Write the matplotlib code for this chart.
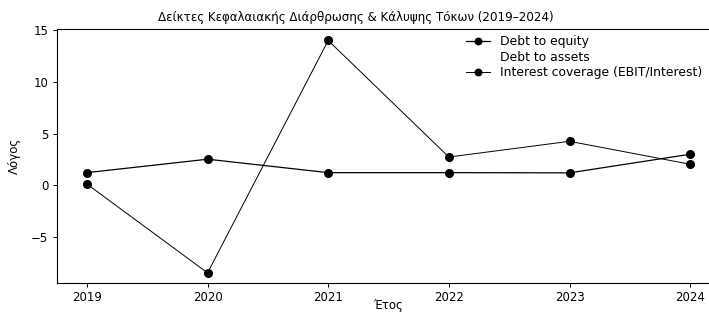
import numpy as np
import matplotlib
matplotlib.use("Agg")
import matplotlib.pyplot as plt

# Data
years = [2019, 2020, 2021, 2022, 2023, 2024]
debt_to_equity = [1.22, 2.52, 1.22, 1.22, 1.20, 3.00]
debt_to_assets = [np.nan] * 6  # not visible in the chart
interest_coverage = [0.12, -8.47, 14.0, 2.73, 4.25, 2.03]

fig = plt.figure(figsize=(7.09, 3.15), dpi=100)
ax = fig.add_axes([0.08, 0.1016, 0.936, 0.806])

# Plot the three series
ax.plot(years, debt_to_equity, color="black", lw=0.9, marker="o", ms=5.5,
        label="Debt to equity")
ax.plot(years, debt_to_assets, linestyle="none", marker="none",
        label="Debt to assets")
ax.plot(years, interest_coverage, color="black", lw=0.7, marker="o", ms=5.5,
        label="Interest coverage (EBIT/Interest)")

# Axis limits and ticks
ax.set_xlim(2018.75, 2024.25)
ax.set_ylim(-9.45, 15.1)
ax.set_xticks(years)
ax.set_yticks([-5, 0, 5, 10, 15])
ax.tick_params(labelsize=8.5, length=3, width=0.7, pad=3)

# Labels and title
title = ax.set_title("Δείκτες Κεφαλαιακής Διάρθρωσης & Κάλυψης Τόκων (2019–2024)",
                     fontsize=8.6, pad=6)
title.set_x(0.451)
ax.set_xlabel("Έτος", fontsize=8.5)
ax.xaxis.set_label_coords(0.5, -0.065)
ax.set_ylabel("Λόγος", fontsize=8.5)
ax.yaxis.set_label_coords(-0.054, 0.5)

for sp in ax.spines.values():
    sp.set_linewidth(0.8)

ax.legend(loc="upper left", frameon=False, fontsize=8.9,
          bbox_to_anchor=(0.607, 1.0), handlelength=2.0, labelspacing=0.2,
          handletextpad=0.8, markerscale=0.85, borderaxespad=0.1)

fig.savefig("out.png", dpi=100)
